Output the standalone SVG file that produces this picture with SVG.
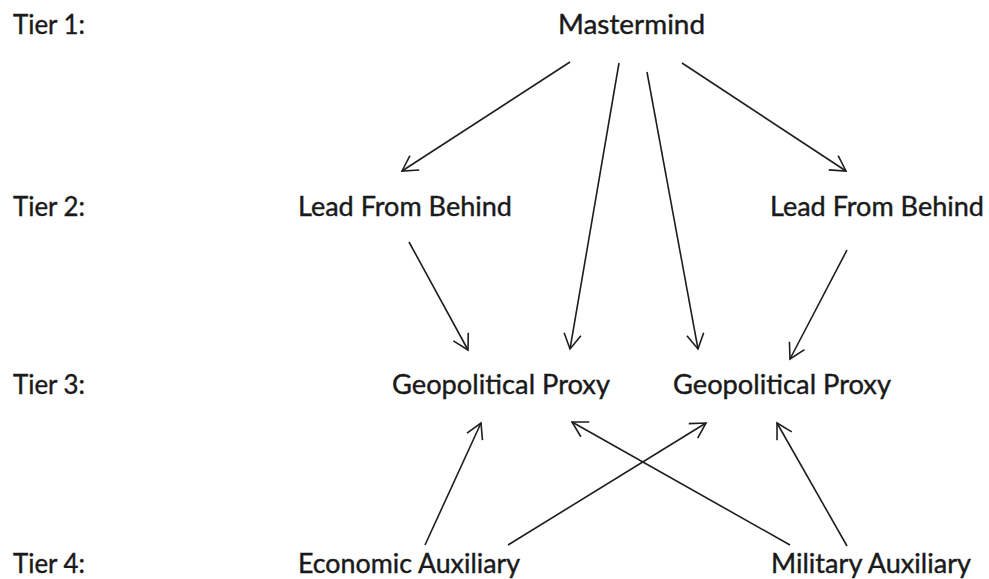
<svg xmlns="http://www.w3.org/2000/svg" width="989" height="579" viewBox="0 0 989 579">
<defs>
<style>
text{font-family:"Lato","Liberation Sans",sans-serif;font-size:26px;fill:#1a1a1a;stroke:#1a1a1a;stroke-width:0.4}
.c line{stroke:#1e1e1e;stroke-width:1.6;fill:none;marker-end:url(#ah)}
</style>
<marker id="ah" markerUnits="userSpaceOnUse" markerWidth="40" markerHeight="40" viewBox="-20 -20 40 40" refX="0" refY="0" orient="auto">
<path d="M-15,-8.5 L0,0 L-15,8.5" fill="none" stroke="#1e1e1e" stroke-width="1.6"/>
</marker>
</defs>
<rect width="989" height="579" fill="#fff"/>
<g id="tiers">
<text x="13" y="34" textLength="72" lengthAdjust="spacingAndGlyphs">Tier 1:</text>
<text x="13" y="216" textLength="72" lengthAdjust="spacingAndGlyphs">Tier 2:</text>
<text x="13" y="394" textLength="72" lengthAdjust="spacingAndGlyphs">Tier 3:</text>
<text x="13" y="573" textLength="72" lengthAdjust="spacingAndGlyphs">Tier 4:</text>
</g>
<g id="mastermind"><text x="558" y="34" textLength="147" lengthAdjust="spacingAndGlyphs">Mastermind</text></g>
<g id="lead-left"><text x="298" y="216" textLength="214" lengthAdjust="spacingAndGlyphs">Lead From Behind</text></g>
<g id="lead-right"><text x="770" y="216" textLength="214" lengthAdjust="spacingAndGlyphs">Lead From Behind</text></g>
<g id="proxy-left"><text x="392" y="394" textLength="218" lengthAdjust="spacingAndGlyphs">Geopolitical Proxy</text></g>
<g id="proxy-right"><text x="673" y="394" textLength="218" lengthAdjust="spacingAndGlyphs">Geopolitical Proxy</text></g>
<g id="economic"><text x="298" y="573" textLength="222" lengthAdjust="spacingAndGlyphs">Economic Auxiliary</text></g>
<g id="military"><text x="771" y="573" textLength="200" lengthAdjust="spacingAndGlyphs">Military Auxiliary</text></g>
<g id="connectors" class="c">
<line x1="570" y1="62" x2="402" y2="171"/>
<line x1="619" y1="63" x2="570" y2="349"/>
<line x1="647" y1="72" x2="698" y2="349"/>
<line x1="682" y1="63" x2="846" y2="171"/>
<line x1="409" y1="242" x2="468" y2="350"/>
<line x1="847" y1="250" x2="790" y2="359"/>
<line x1="425" y1="545" x2="481" y2="423"/>
<line x1="508" y1="545" x2="706" y2="423"/>
<line x1="790" y1="545" x2="572" y2="422"/>
<line x1="847" y1="546" x2="777" y2="423"/>
</g>
</svg>
